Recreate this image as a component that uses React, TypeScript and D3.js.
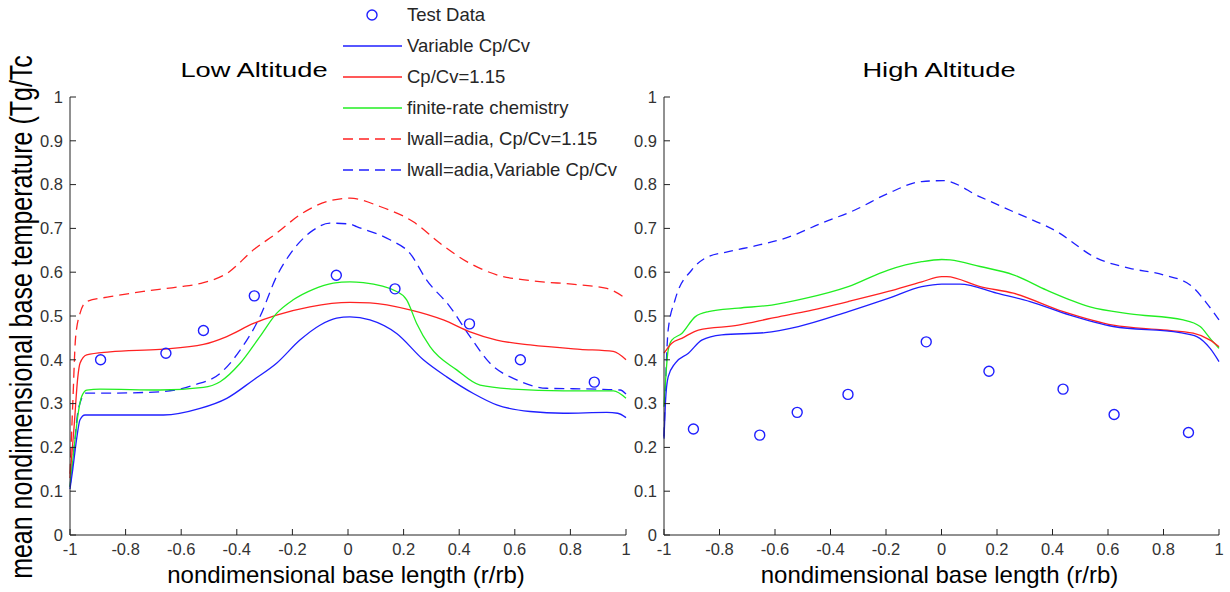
import React from 'react';
import * as d3 from 'd3';

// x positions of the measured points (same stations on both panels)
const testXLow = [-0.89, -0.655, -0.52, -0.337, -0.042, 0.169, 0.437, 0.62, 0.886];
const testYLow = [0.40, 0.415, 0.467, 0.546, 0.593, 0.562, 0.482, 0.40, 0.349];
const testXHigh = [-0.894, -0.655, -0.52, -0.337, -0.055, 0.171, 0.438, 0.622, 0.89];
const testYHigh = [0.242, 0.228, 0.28, 0.321, 0.441, 0.374, 0.333, 0.275, 0.234];

// Low altitude curves [r/rb, Tg/Tc]
const lowVar = [[-1, 0.105], [-0.99, 0.15], [-0.976, 0.22], [-0.964, 0.263], [-0.946, 0.274], [-0.8, 0.274], [-0.664, 0.274], [-0.532, 0.289], [-0.436, 0.312], [-0.34, 0.354], [-0.257, 0.392], [-0.173, 0.445], [-0.101, 0.479], [-0.041, 0.495], [0.007, 0.498], [0.079, 0.491], [0.175, 0.46], [0.271, 0.40], [0.355, 0.361], [0.451, 0.323], [0.535, 0.297], [0.655, 0.282], [0.775, 0.278], [0.931, 0.28], [0.97, 0.278], [1, 0.268]];
const lowCp = [[-1, 0.13], [-0.985, 0.25], [-0.972, 0.36], [-0.964, 0.392], [-0.94, 0.411], [-0.856, 0.418], [-0.676, 0.424], [-0.52, 0.435], [-0.436, 0.453], [-0.34, 0.483], [-0.257, 0.502], [-0.137, 0.521], [0.007, 0.531], [0.079, 0.53], [0.223, 0.514], [0.343, 0.491], [0.439, 0.464], [0.535, 0.445], [0.655, 0.434], [0.835, 0.424], [0.954, 0.419], [1, 0.40]];
const lowChem = [[-1, 0.11], [-0.985, 0.2], [-0.97, 0.28], [-0.958, 0.316], [-0.94, 0.331], [-0.892, 0.333], [-0.676, 0.331], [-0.52, 0.337], [-0.46, 0.35], [-0.388, 0.392], [-0.317, 0.453], [-0.257, 0.506], [-0.197, 0.537], [-0.125, 0.561], [-0.053, 0.575], [0.007, 0.578], [0.055, 0.576], [0.175, 0.556], [0.211, 0.537], [0.247, 0.483], [0.295, 0.43], [0.391, 0.377], [0.475, 0.342], [0.595, 0.333], [0.775, 0.329], [0.955, 0.329], [1, 0.312]];
const lowAdiaCp = [[-1, 0.14], [-0.99, 0.3], [-0.98, 0.45], [-0.964, 0.506], [-0.94, 0.533], [-0.856, 0.544], [-0.736, 0.556], [-0.616, 0.566], [-0.52, 0.576], [-0.436, 0.597], [-0.34, 0.651], [-0.257, 0.689], [-0.173, 0.731], [-0.077, 0.761], [0.007, 0.769], [0.115, 0.75], [0.235, 0.715], [0.331, 0.666], [0.439, 0.62], [0.535, 0.594], [0.655, 0.581], [0.835, 0.571], [0.931, 0.563], [1, 0.54]];
const lowAdiaVar = [[-1, 0.11], [-0.985, 0.2], [-0.972, 0.28], [-0.964, 0.301], [-0.946, 0.324], [-0.856, 0.324], [-0.676, 0.327], [-0.556, 0.342], [-0.46, 0.369], [-0.388, 0.422], [-0.317, 0.498], [-0.257, 0.59], [-0.197, 0.651], [-0.125, 0.696], [-0.065, 0.712], [0.007, 0.71], [0.031, 0.704], [0.151, 0.674], [0.223, 0.643], [0.283, 0.582], [0.367, 0.521], [0.439, 0.453], [0.511, 0.392], [0.607, 0.354], [0.715, 0.335], [0.895, 0.333], [0.979, 0.331], [1, 0.322]];

// High altitude curves
const highVar = [[-1, 0.22], [-0.995, 0.3], [-0.985, 0.361], [-0.96, 0.392], [-0.912, 0.415], [-0.864, 0.445], [-0.792, 0.457], [-0.636, 0.462], [-0.516, 0.476], [-0.336, 0.51], [-0.192, 0.54], [-0.071, 0.567], [0.001, 0.573], [0.067, 0.573], [0.199, 0.552], [0.319, 0.533], [0.463, 0.502], [0.619, 0.476], [0.859, 0.462], [0.92, 0.453], [0.968, 0.426], [1, 0.396]];
const highCp = [[-1, 0.415], [-0.972, 0.438], [-0.936, 0.449], [-0.876, 0.468], [-0.732, 0.479], [-0.612, 0.495], [-0.492, 0.51], [-0.336, 0.533], [-0.192, 0.556], [-0.071, 0.578], [0.001, 0.59], [0.019, 0.59], [0.139, 0.567], [0.259, 0.552], [0.439, 0.51], [0.619, 0.479], [0.799, 0.468], [0.907, 0.461], [0.968, 0.445], [1, 0.43]];
const highChem = [[-1, 0.293], [-0.985, 0.422], [-0.972, 0.445], [-0.936, 0.46], [-0.888, 0.498], [-0.84, 0.51], [-0.732, 0.518], [-0.612, 0.525], [-0.492, 0.54], [-0.336, 0.567], [-0.192, 0.605], [-0.071, 0.624], [0.001, 0.629], [0.031, 0.628], [0.139, 0.613], [0.259, 0.594], [0.379, 0.559], [0.535, 0.521], [0.679, 0.505], [0.871, 0.491], [0.932, 0.476], [0.968, 0.449], [1, 0.426]];
const highAdiaVar = [[-1, 0.225], [-0.985, 0.468], [-0.96, 0.537], [-0.9, 0.605], [-0.852, 0.632], [-0.768, 0.647], [-0.672, 0.66], [-0.552, 0.68], [-0.432, 0.712], [-0.312, 0.742], [-0.192, 0.78], [-0.071, 0.807], [0.007, 0.809], [0.139, 0.772], [0.259, 0.738], [0.415, 0.693], [0.559, 0.632], [0.679, 0.609], [0.799, 0.594], [0.896, 0.571], [0.956, 0.529], [1, 0.491]];

const xTicks = [-1, -0.8, -0.6, -0.4, -0.2, 0, 0.2, 0.4, 0.6, 0.8, 1];
const yTicks = [0, 0.1, 0.2, 0.3, 0.4, 0.5, 0.6, 0.7, 0.8, 0.9, 1];

const legendLabels = ['Test Data', 'Variable Cp/Cv', 'Cp/Cv=1.15', 'finite-rate chemistry', 'lwall=adia, Cp/Cv=1.15', 'lwall=adia,Variable Cp/Cv'];

const BLUE = '#1f1fff';
const RED = '#ff2222';
const GREEN = '#22ee22';
const FONT = 'Liberation Sans, Arial, sans-serif';
const DASH = '10,6';

const fmt = (v: number) => (Math.abs(v) < 1e-9 ? '0' : String(+v.toFixed(1)));

type Series = { data: number[][]; color: string; dash?: string };

const Panel = ({ left, right, title, titleX, series, tx, ty }:
  { left: number; right: number; title: string; titleX: number; series: Series[]; tx: number[]; ty: number[] }) => {
  const top = 97, bottom = 535;
  const x = d3.scaleLinear().domain([-1, 1]).range([left, right]);
  const y = d3.scaleLinear().domain([0, 1]).range([bottom, top]);
  const line = d3.line<number[]>().x(d => x(d[0])).y(d => y(d[1])).curve(d3.curveMonotoneX);
  const mid = (left + right) / 2;
  return (
    <g>
      {series.map((s, i) => (
        <path key={i} d={line(s.data) || ''} fill="none" stroke={s.color} strokeWidth={1.3}
          strokeDasharray={s.dash} />
      ))}
      {tx.map((v, i) => (
        <circle key={i} cx={x(v)} cy={y(ty[i])} r={5} fill="none" stroke={BLUE} strokeWidth={1.4} />
      ))}
      {/* axes */}
      <line x1={left} x2={right} y1={bottom} y2={bottom} stroke="#222" strokeWidth={1} />
      <line x1={left} x2={left} y1={top} y2={bottom} stroke="#222" strokeWidth={1} />
      {xTicks.map(t => (
        <g key={'x' + t}>
          <line x1={x(t)} x2={x(t)} y1={bottom} y2={bottom - 6} stroke="#222" />
          <text x={x(t)} y={555} textAnchor="middle" fontSize={16.5} fill="#333" fontFamily={FONT}>{fmt(t)}</text>
        </g>
      ))}
      {yTicks.map(t => (
        <g key={'y' + t}>
          <line x1={left} x2={left + 6} y1={y(t)} y2={y(t)} stroke="#222" />
          <text x={left - 7} y={y(t)} dy="0.35em" textAnchor="end" fontSize={16.5} fill="#333" fontFamily={FONT}>{fmt(t)}</text>
        </g>
      ))}
      <text transform={`translate(${titleX},77) scale(1.3,1)`} textAnchor="middle" fontSize={21} fill="#000" fontFamily={FONT}>{title}</text>
      <text x={mid - 2} y={583} textAnchor="middle" fontSize={24} fill="#000" fontFamily={FONT}>nondimensional base length (r/rb)</text>
    </g>
  );
};

const Legend = () => {
  const rows = [15, 46, 77, 108, 139, 170];
  const styles = [
    null,
    { color: BLUE, dash: undefined },
    { color: RED, dash: undefined },
    { color: GREEN, dash: undefined },
    { color: RED, dash: DASH },
    { color: BLUE, dash: DASH },
  ];
  return (
    <g>
      {legendLabels.map((lab, i) => {
        const st = styles[i];
        return (
          <g key={lab}>
            {st ? (
              <line x1={343} x2={402} y1={rows[i]} y2={rows[i]} stroke={st.color} strokeWidth={1.3} strokeDasharray={st.dash} />
            ) : (
              <circle cx={372} cy={rows[i]} r={5} fill="none" stroke={BLUE} strokeWidth={1.4} />
            )}
            <text x={407} y={rows[i]} dy="0.35em" fontSize={18.5} fill="#262626" fontFamily={FONT}>{lab}</text>
          </g>
        );
      })}
    </g>
  );
};

export default function App() {
  const lowSeries: Series[] = [
    { data: lowAdiaCp, color: RED, dash: DASH },
    { data: lowAdiaVar, color: BLUE, dash: DASH },
    { data: lowCp, color: RED },
    { data: lowChem, color: GREEN },
    { data: lowVar, color: BLUE },
  ];
  const highSeries: Series[] = [
    { data: highAdiaVar, color: BLUE, dash: '9,6' },
    { data: highChem, color: GREEN },
    { data: highCp, color: RED },
    { data: highVar, color: BLUE },
  ];
  return (
    <svg width={1230} height={592} style={{ position: 'absolute', left: 0, top: 0, background: '#fff' }}>
      <rect width={1230} height={592} fill="#fff" />
      <Panel left={70} right={626} title="Low Altitude" titleX={254} series={lowSeries} tx={testXLow} ty={testYLow} />
      <Panel left={664} right={1219} title="High Altitude" titleX={939} series={highSeries} tx={testXHigh} ty={testYHigh} />
      <Legend />
      <text transform="translate(32,317) scale(1.28,1) rotate(-90)" textAnchor="middle" fontSize={25} fill="#000" fontFamily={FONT}>
        mean nondimensional base temperature (Tg/Tc
      </text>
    </svg>
  );
}
